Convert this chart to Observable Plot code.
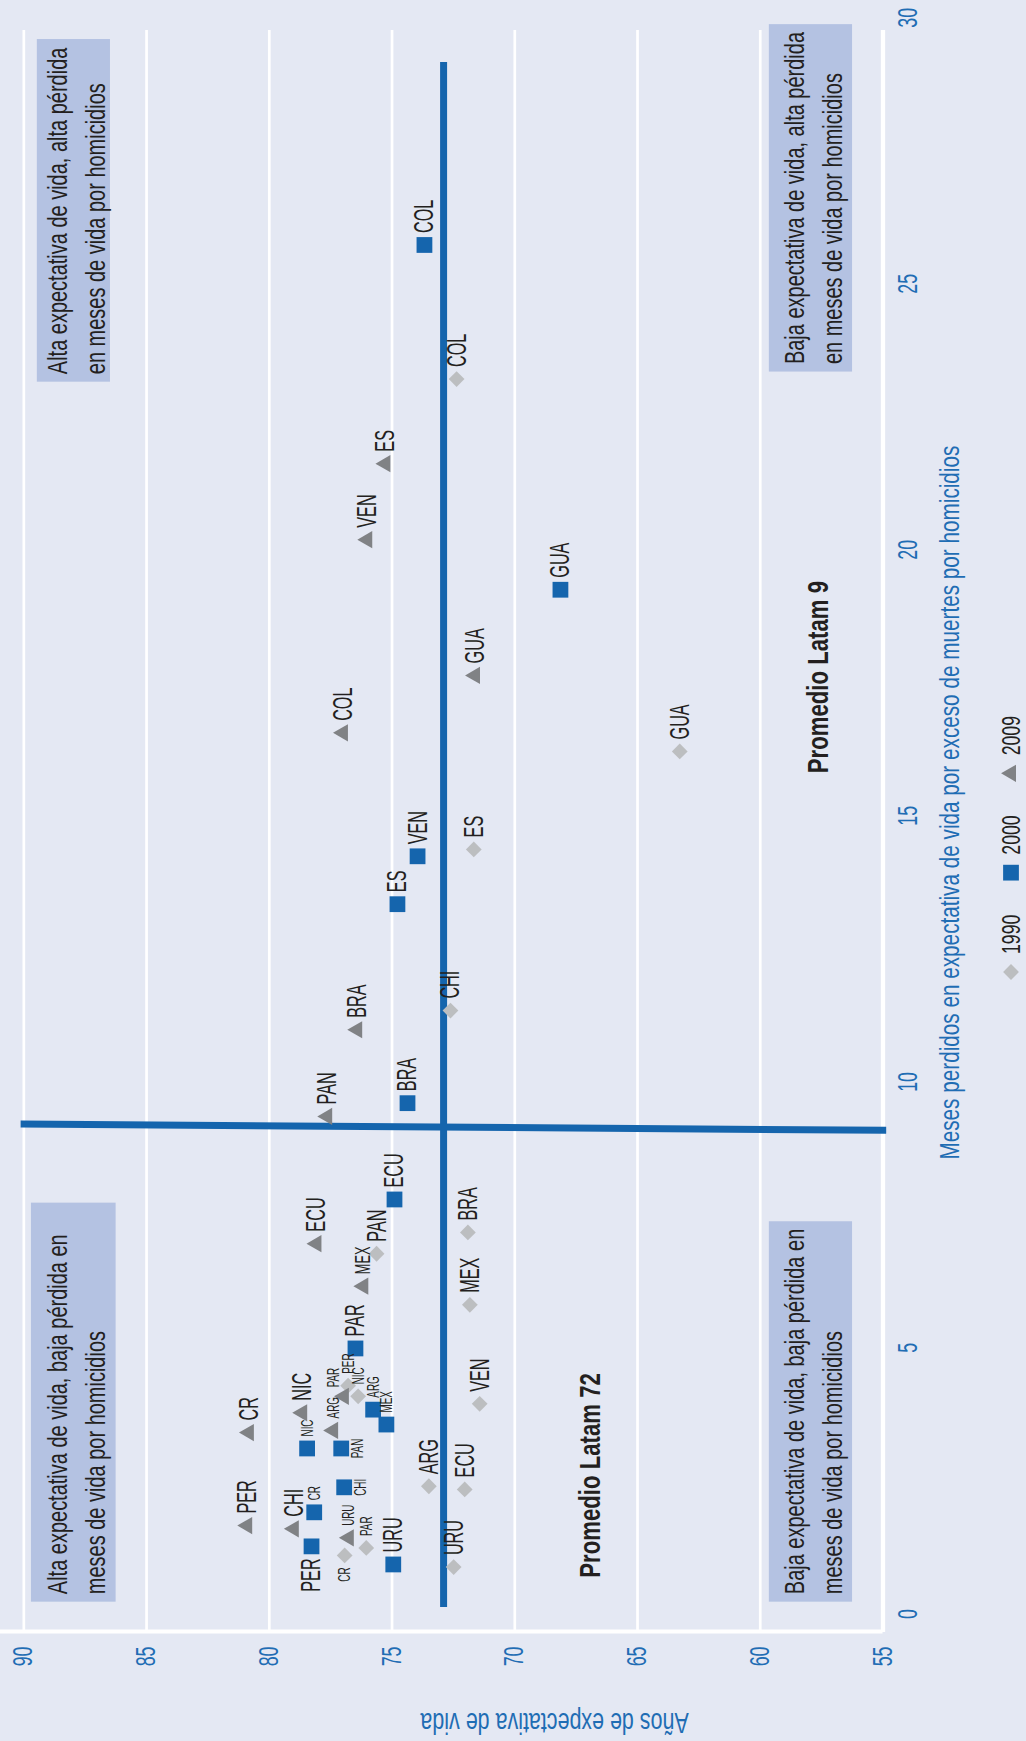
<!DOCTYPE html>
<html>
<head>
<meta charset="utf-8">
<script src="https://cdn.jsdelivr.net/npm/d3@7"></script>
<script src="https://cdn.jsdelivr.net/npm/@observablehq/plot@0.6"></script>
<style>
  html, body { margin: 0; padding: 0; background: #e4e8f3; }
  body { width: 1026px; height: 1741px; overflow: hidden; position: relative; }
  #rot { position: absolute; left: 0; top: 0; width: 1741px; height: 1026px;
         transform-origin: 0 0; transform: translate(0, 1741px) rotate(-90deg); }
  #legend { display: block; }
</style>
</head>
<body>
<div id="rot"></div>
<script>
// ---------------- DATA ----------------
const countries = ["ARG","BRA","CHI","COL","CR","ECU","ES","GUA","MEX","NIC","PAN","PAR","PER","URU","VEN"];
const years = ["1990","2000","2009"];

// months lost in life expectancy due to excess homicide deaths
const months1990 = [2.40, 7.17, 11.34, 23.21, 1.10, 2.34, 14.37, 16.21, 5.81, 4.09, 6.77, 1.24, 4.29, 0.88, 3.95];
const months2000 = [3.84, 9.60, 2.38, 25.73, 1.91, 7.79, 13.34, 19.25, 3.56, 3.11, 3.11, 4.99, 1.27, 0.93, 14.24];
const months2009 = [3.45, 10.98, 1.60, 16.56, 3.41, 6.96, 21.62, 17.64, 6.16, 3.78, 9.35, 4.09, 1.66, 1.43, 20.19];

// life expectancy (years)
const life1990 = [73.50, 71.91, 72.62, 72.37, 76.93, 72.04, 71.67, 63.28, 71.83, 76.38, 75.63, 76.05, 76.79, 72.49, 71.43];
const life2000 = [75.77, 74.37, 76.95, 73.68, 78.17, 74.90, 74.78, 68.14, 75.23, 78.46, 77.07, 76.49, 78.28, 74.95, 73.96];
const life2009 = [77.40, 76.42, 79.00, 77.00, 80.83, 78.08, 75.27, 71.62, 76.17, 78.66, 77.64, 76.96, 80.90, 76.76, 76.01];

const xTicks = [0, 5, 10, 15, 20, 25, 30];
const yTicks = [55, 60, 65, 70, 75, 80, 85, 90];

// Latin-American averages (reference lines as drawn)
const avgLifeLabel = "Promedio Latam 72";
const avgMonthsLabel = "Promedio Latam 9";
const avgLifeLine = [[0.13, 72.9], [29.17, 72.9]];        // [months, life]
const avgMonthsLine = [[9.21, 90.13], [9.09, 54.87]];     // [months, life]
const avgLifeLabelAt = [0.68, 66.92];
const avgMonthsLabelAt = [15.80, 57.63];

// quadrant annotations
const quadrantTexts = [
  "Alta expectativa de vida, baja pérdida en\nmeses de vida por homicidios",
  "Alta expectativa de vida, alta pérdida\nen meses de vida por homicidios",
  "Baja expectativa de vida, baja pérdida en\nmeses de vida por homicidios",
  "Baja expectativa de vida, alta pérdida\nen meses de vida por homicidios"
];
const quadrantMonths = [[0.24, 7.74], [23.17, 29.61], [0.24, 7.39], [23.36, 29.89]];
const quadrantLife = [[86.24, 89.69], [86.47, 89.45], [56.24, 59.63], [56.24, 59.63]];

const xTitle = "Meses perdidos en expectativa de vida por exceso de muertes por homicidios";
const yTitle = "Años de expectativa de vida";
const xTitleAt = 8.54;
const yTitleAt = 68.38;

// label layout exceptions (style config)
const smallLabels = {"1990": ["CR","PAR","PER","NIC"], "2000": ["CR","NIC","PAN","CHI","ARG","MEX"], "2009": ["ARG","PAR","URU"]};
const mediumLabels = {"1990": [], "2000": [], "2009": ["MEX"]};
const leftLabels = {"1990": ["CR"], "2000": ["PER"], "2009": []};
const belowLabels = {"1990": [], "2000": ["PAN","CHI"], "2009": []};
const raisedLabels = {"1990": [], "2000": [], "2009": ["PAR"]};

// ---------------- STYLE ----------------
const BLUE = "#1565ad";
const AXISBLUE = "#1f6db4";
const INK = "#231f20";
const BOX = "#b4c2e2";
const colorOf = {"1990": "#bcbec0", "2000": BLUE, "2009": "#808285"};
const symbolOf = {"1990": "diamond2", "2000": "square", "2009": "triangle"};
const radiusOf = {"1990": 7.1, "2000": 8.9, "2009": 6.4};
const FONT = "'Liberation Sans', Arial, sans-serif";

const monthsBy = {"1990": months1990, "2000": months2000, "2009": months2009};
const lifeBy = {"1990": life1990, "2000": life2000, "2009": life2009};
const rows = years.flatMap(yr => countries.map((c, i) => ({year: yr, country: c, months: monthsBy[yr][i], life: lifeBy[yr][i]})));

const sizeOf = d => smallLabels[d.year].includes(d.country) ? 17 : mediumLabels[d.year].includes(d.country) ? 22 : 28;
const placeOf = d => leftLabels[d.year].includes(d.country) ? "l"
  : belowLabels[d.year].includes(d.country) ? "b"
  : raisedLabels[d.year].includes(d.country) ? "u" : "r";

const qIdx = quadrantTexts.map((_, i) => i);

const W = 1741, H = 980;
const chart = Plot.plot({
  width: W,
  height: H,
  marginLeft: 109,
  marginRight: 30,
  marginTop: 0,
  marginBottom: 97.5,
  x: {domain: [-0.33, 29.78]},
  y: {domain: [55, 90.95]},
  style: {background: "transparent", fontFamily: FONT, overflow: "visible"},
  marks: [
    Plot.ruleY(yTicks, {stroke: "white", strokeWidth: d => d === 55 ? 4.3 : 2.7}),
    Plot.ruleX([-0.33], {stroke: "white", strokeWidth: 4}),
    Plot.rect(qIdx, {x1: i => quadrantMonths[i][0], x2: i => quadrantMonths[i][1],
                     y1: i => quadrantLife[i][0], y2: i => quadrantLife[i][1], fill: BOX}),
    Plot.text(qIdx, {x: i => quadrantMonths[i][0], y: i => (quadrantLife[i][0] + quadrantLife[i][1]) / 2,
                     text: i => quadrantTexts[i], textAnchor: "start", lineAnchor: "middle",
                     dx: 7, fontSize: 27, lineHeight: 1.4, fill: INK}),
    Plot.line(avgLifeLine, {x: d => d[0], y: d => d[1], stroke: BLUE, strokeWidth: 7, strokeLinecap: "butt"}),
    Plot.line(avgMonthsLine, {x: d => d[0], y: d => d[1], stroke: BLUE, strokeWidth: 7, strokeLinecap: "butt"}),
    ...years.map(yr => Plot.dot(rows.filter(d => d.year === yr), {
      x: "months", y: "life", symbol: symbolOf[yr], r: radiusOf[yr], fill: colorOf[yr], stroke: null
    })),
    Plot.text(rows.filter(d => placeOf(d) === "r"), {x: "months", y: "life", text: "country",
      fontSize: sizeOf, textAnchor: "start", lineAnchor: "middle", dx: 12, fill: INK}),
    Plot.text(rows.filter(d => placeOf(d) === "u"), {x: "months", y: "life", text: "country",
      fontSize: sizeOf, textAnchor: "start", lineAnchor: "middle", dx: 9, dy: -10, fill: INK}),
    Plot.text(rows.filter(d => placeOf(d) === "l"), {x: "months", y: "life", text: "country",
      fontSize: sizeOf, textAnchor: "end", lineAnchor: "middle", dx: -12, fill: INK}),
    Plot.text(rows.filter(d => placeOf(d) === "b"), {x: "months", y: "life", text: "country",
      fontSize: sizeOf, textAnchor: "middle", lineAnchor: "top", dy: 10, fill: INK}),
    Plot.text([avgLifeLabel], {x: () => avgLifeLabelAt[0], y: () => avgLifeLabelAt[1], text: d => d,
      textAnchor: "start", lineAnchor: "middle", fontSize: 30, fontWeight: "bold", fill: INK}),
    Plot.text([avgMonthsLabel], {x: () => avgMonthsLabelAt[0], y: () => avgMonthsLabelAt[1], text: d => d,
      textAnchor: "start", lineAnchor: "middle", fontSize: 30, fontWeight: "bold", fill: INK}),
    Plot.axisX({ticks: xTicks, tickSize: 0, tickPadding: 14.5, fontSize: 27, color: AXISBLUE, label: null}),
    Plot.axisY({ticks: yTicks, tickSize: 0, tickPadding: 15, fontSize: 27, color: AXISBLUE, label: null}),
    Plot.text([xTitle], {x: () => xTitleAt, frameAnchor: "bottom", dy: 75.5, text: d => d,
      textAnchor: "start", lineAnchor: "bottom", fontSize: 28, fill: AXISBLUE}),
    Plot.text([yTitle], {y: () => yTitleAt, frameAnchor: "left", dx: -81, text: d => d, rotate: -90,
      textAnchor: "middle", lineAnchor: "bottom", fontSize: 29, fill: AXISBLUE})
  ]
});

const rot = document.getElementById("rot");
rot.appendChild(chart);

// ---------------- LEGEND ----------------
const legend = d3.create("svg").attr("id", "legend").attr("width", W).attr("height", 1026 - H)
  .style("font-family", FONT);
rot.appendChild(legend.node());
const symbolType = {"1990": d3.symbolDiamond2, "2000": d3.symbolSquare, "2009": d3.symbolTriangle};
let cursor = 769;
const LEG_K = 0.68;
years.forEach(yr => {
  const r = radiusOf[yr];
  legend.append("path")
    .attr("transform", `translate(${cursor},31)`)
    .attr("d", d3.symbol(symbolType[yr], Math.PI * r * r)())
    .attr("fill", colorOf[yr]);
  const t = legend.append("text")
    .attr("transform", `translate(${cursor + 18},40)`)
    .attr("font-size", 26).attr("fill", INK).text(yr);
  const w = t.node().getComputedTextLength() * LEG_K;
  cursor = cursor + 18 + w + 42;
});

// ---------------- condensed lettering ----------------
function condense(root) {
  root.querySelectorAll("text").forEach(t => {
    const s = t.textContent.trim();
    const k = /^[A-ZÁÉÍÓÚÑ]+$/.test(s) ? 0.58 : /^[\d.]+$/.test(s) ? (root === legend.node() ? LEG_K : 0.66) : 0.74;
    const tr = t.getAttribute("transform") || "";
    t.setAttribute("transform", `${tr} scale(${k},1)`);
  });
}
condense(chart);
condense(legend.node());
</script>
</body>
</html>
